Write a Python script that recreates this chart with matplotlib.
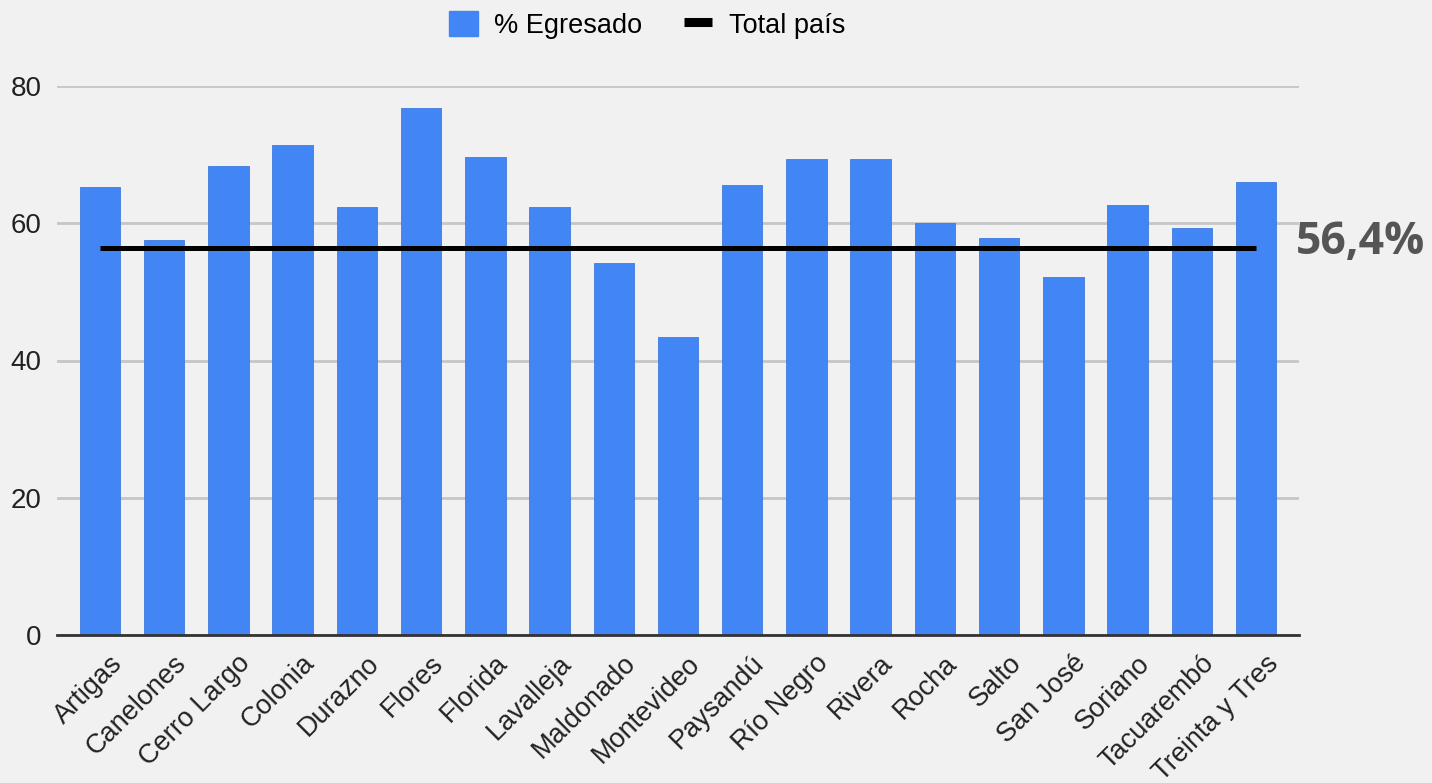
import matplotlib
matplotlib.use("Agg")
import matplotlib.pyplot as plt
from matplotlib.patches import Patch
from matplotlib.lines import Line2D
from matplotlib.transforms import ScaledTranslation

departamentos = ["Artigas", "Canelones", "Cerro Largo", "Colonia", "Durazno", "Flores",
                 "Florida", "Lavalleja", "Maldonado", "Montevideo", "Paysandú", "Río Negro",
                 "Rivera", "Rocha", "Salto", "San José", "Soriano", "Tacuarembó", "Treinta y Tres"]
egresado = [65.3, 57.6, 68.4, 71.4, 62.3, 76.8, 69.7, 62.3, 54.2, 43.4,
            65.6, 69.4, 69.4, 60.0, 57.9, 52.2, 62.6, 59.3, 66.0]
total_pais = 56.4
total_label = "56,4%"
yticks = [0, 20, 40, 60, 80]

BG = "#F1F1F1"
BLUE = "#4285F4"

plt.rcParams['font.family'] = ['Liberation Sans', 'DejaVu Sans']

fig = plt.figure(figsize=(14.32, 7.83), dpi=100, facecolor=BG)
ax = fig.add_axes([57/1432, 1-635/783, (1299-57)/1432, (635-86)/783], facecolor=BG)

x = list(range(len(departamentos)))
ax.bar(x, egresado, width=0.63, color=BLUE, edgecolor="#3d7be0", linewidth=0.6, zorder=3)
ax.plot([x[0], x[-1]], [total_pais, total_pais], color="black", lw=3.6, zorder=4,
        solid_capstyle="butt")

ax.set_xlim(-0.67, len(departamentos) - 1 + 0.67)
ax.set_ylim(0, 80)
ax.set_yticks(yticks)
ax.set_yticklabels([str(v) for v in yticks], fontsize=20, color="#222222")
ax.grid(axis="y", color="#C6C6C6", lw=2, zorder=0)
ax.tick_params(axis="y", length=0, pad=11)
ax.tick_params(axis="x", length=0, pad=11)
ax.set_xticks(x)
ax.set_xticklabels(departamentos, rotation=45, ha="right", va="top",
                   rotation_mode="anchor", fontsize=19.5, color="#222222")
off = ScaledTranslation(9/100, 0, fig.dpi_scale_trans)
for lbl in ax.get_xticklabels():
    lbl.set_transform(lbl.get_transform() + off)
for s in ["top", "right", "left"]:
    ax.spines[s].set_visible(False)
ax.spines["bottom"].set_color("#333333")
ax.spines["bottom"].set_linewidth(2)
ax.spines["bottom"].set_zorder(5)

fig.text(1296/1432, 1-243/783, total_label, fontsize=32, fontweight="bold",
         color="#555555", family=["Open Sans", "DejaVu Sans"], ha="left", va="center")

handles = [Patch(facecolor=BLUE, edgecolor=BLUE),
           Line2D([0], [0], color="black", lw=6.5, solid_capstyle="butt")]
fig.legend(handles, ["% Egresado", "Total país"], loc="center",
           bbox_to_anchor=(647/1432, 1-25/783), ncol=2, frameon=False,
           fontsize=19.5, handlelength=1.05, handleheight=1.05, handletextpad=0.6,
           columnspacing=1.55)

fig.savefig("out.png", dpi=100, facecolor=BG)
